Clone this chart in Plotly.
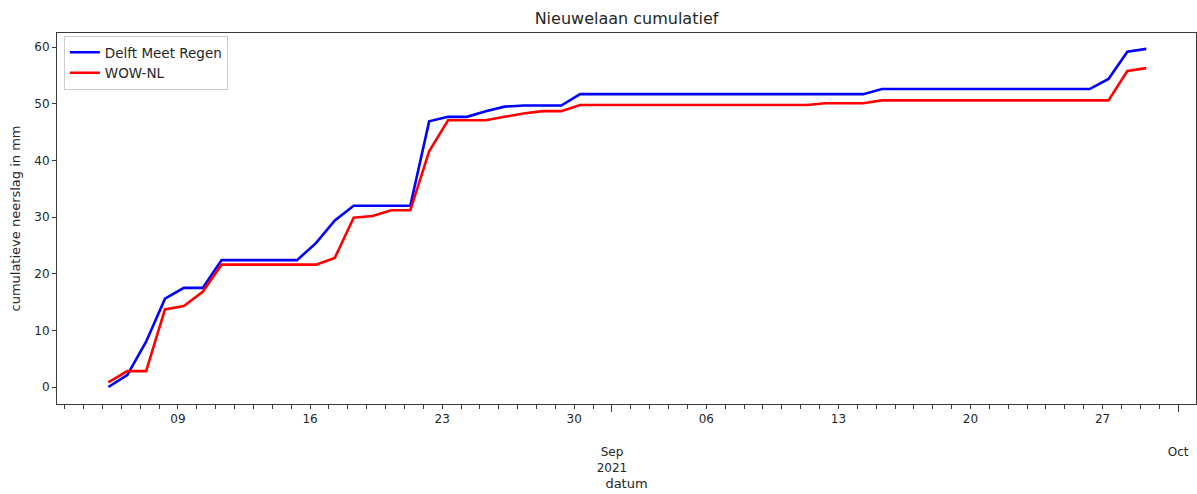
import pandas as pd
import plotly.graph_objects as go

# Daily readings (one per day, morning), cumulative rainfall in mm
start_date = "2021-08-05 07:30"
n_days = 56
dates = pd.date_range(start_date, periods=n_days, freq="D")

delft_meet_regen = [
    0.0, 2.1, 8.0, 15.6, 17.5, 17.5, 22.4, 22.4, 22.4, 22.4,
    22.4, 25.4, 29.4, 32.0, 32.0, 32.0, 32.0, 46.9, 47.7, 47.7,
    48.7, 49.5, 49.7, 49.7, 49.7, 51.7, 51.7, 51.7, 51.7, 51.7,
    51.7, 51.7, 51.7, 51.7, 51.7, 51.7, 51.7, 51.7, 51.7, 51.7,
    51.7, 52.6, 52.6, 52.6, 52.6, 52.6, 52.6, 52.6, 52.6, 52.6,
    52.6, 52.6, 52.6, 54.4, 59.2, 59.7,
]
wow_nl = [
    0.8, 2.8, 2.8, 13.7, 14.3, 16.8, 21.6, 21.6, 21.6, 21.6,
    21.6, 21.6, 22.8, 29.9, 30.2, 31.2, 31.2, 41.6, 47.1, 47.1,
    47.1, 47.7, 48.3, 48.7, 48.7, 49.8, 49.8, 49.8, 49.8, 49.8,
    49.8, 49.8, 49.8, 49.8, 49.8, 49.8, 49.8, 49.8, 50.1, 50.1,
    50.1, 50.6, 50.6, 50.6, 50.6, 50.6, 50.6, 50.6, 50.6, 50.6,
    50.6, 50.6, 50.6, 50.6, 55.8, 56.3,
]

# Weekly day labels and month labels on the date axis
week_ticks = ["2021-08-09", "2021-08-16", "2021-08-23", "2021-08-30",
              "2021-09-06", "2021-09-13", "2021-09-20", "2021-09-27"]
week_labels = ["09", "16", "23", "30", "06", "13", "20", "27"]
month_ticks = ["2021-09-01", "2021-10-01"]
month_labels = ["Sep<br>2021", "Oct"]

y_ticks = [0, 10, 20, 30, 40, 50, 60]

x_range = ["2021-08-02 14:10", "2021-10-01 22:48"]
y_range = [-3.0, 62.5]

FONT = "DejaVu Sans"
INK = "#262626"
SPINE = "#3a3a3a"

fig = go.Figure()
fig.add_trace(go.Scatter(x=dates, y=delft_meet_regen, mode="lines",
                         name="Delft Meet Regen",
                         line=dict(color="#0000ff", width=2.6)))
fig.add_trace(go.Scatter(x=dates, y=wow_nl, mode="lines", name="WOW-NL",
                         line=dict(color="#ff0000", width=2.6)))
# carrier trace so the month axis is drawn
fig.add_trace(go.Scatter(x=month_ticks, y=[None, None], xaxis="x2",
                         mode="lines", showlegend=False, hoverinfo="skip"))

fig.update_layout(
    width=1197, height=494,
    margin=dict(l=57, r=1, t=33, b=90),
    paper_bgcolor="white", plot_bgcolor="white",
    font=dict(family=FONT, color=INK, size=12),
    title=dict(text="Nieuwelaan cumulatief", x=0.5, xref="paper",
               xanchor="center", y=1 - 18 / 494, yref="container",
               yanchor="middle", font=dict(size=16, color=INK)),
    showlegend=True,
    legend=dict(x=0.006, y=0.992, xanchor="left", yanchor="top",
                bgcolor="white", bordercolor="#cccccc", borderwidth=1,
                font=dict(size=13.5, color=INK), itemwidth=30,
                tracegroupgap=0),
    xaxis=dict(
        type="date", range=x_range, showgrid=False, zeroline=False,
        showline=True, linecolor=SPINE, linewidth=1, mirror=True,
        ticks="outside", ticklen=4, tickwidth=1, tickcolor=SPINE,
        tickvals=week_ticks, ticktext=week_labels,
        tickfont=dict(size=12, color=INK),
        minor=dict(dtick=86400000, tick0="2021-08-01", ticks="outside",
                   ticklen=4, tickwidth=1, tickcolor=SPINE, showgrid=False),
    ),
    xaxis2=dict(
        type="date", range=x_range, overlaying="x", side="bottom",
        anchor="y", showgrid=False, zeroline=False, showline=False,
        ticks="outside", ticklen=7, tickwidth=1, tickcolor=SPINE,
        tickvals=month_ticks, ticktext=month_labels,
        tickfont=dict(size=12, color=INK), ticklabelstandoff=30,
        title=dict(text="datum", font=dict(size=13, color=INK), standoff=4),
    ),
    yaxis=dict(
        range=y_range, showgrid=False, zeroline=False,
        showline=True, linecolor=SPINE, linewidth=1, mirror=True,
        ticks="outside", ticklen=4, tickwidth=1, tickcolor=SPINE,
        tickvals=y_ticks, tickfont=dict(size=12, color=INK),
        title=dict(text="cumulatieve neerslag in mm",
                   font=dict(size=13, color=INK), standoff=10),
    ),
)

fig.write_html("out.html")
